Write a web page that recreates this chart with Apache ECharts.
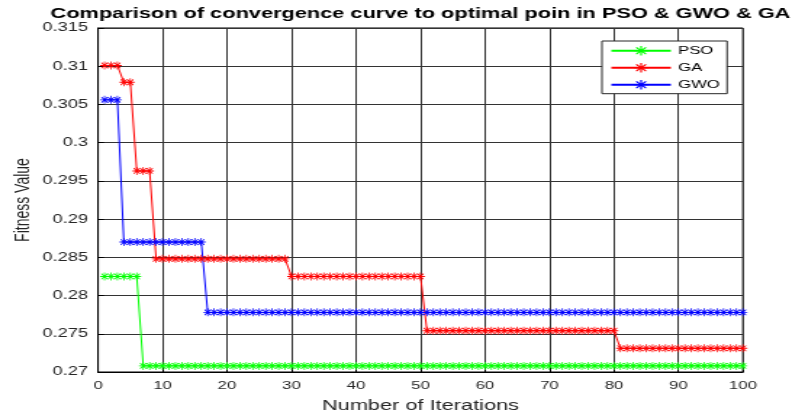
<!DOCTYPE html>
<html><head><meta charset="utf-8">
<script src="https://cdn.jsdelivr.net/npm/echarts@6/dist/echarts.min.js"></script>
<style>
html,body{margin:0;padding:0;overflow:hidden;background:#fff}
#c{width:546px;height:417px;transform:scaleX(1.4505);transform-origin:0 0}
</style>
</head><body><div id="c"></div>
<script>
const iterations = [
  1,2,3,4,5,6,7,8,9,10,
  11,12,13,14,15,16,17,18,19,20,
  21,22,23,24,25,26,27,28,29,30,
  31,32,33,34,35,36,37,38,39,40,
  41,42,43,44,45,46,47,48,49,50,
  51,52,53,54,55,56,57,58,59,60,
  61,62,63,64,65,66,67,68,69,70,
  71,72,73,74,75,76,77,78,79,80,
  81,82,83,84,85,86,87,88,89,90,
  91,92,93,94,95,96,97,98,99,100
];
const psoValues = [
  0.2825,0.2825,0.2825,0.2825,0.2825,0.2825,0.2708,0.2708,0.2708,0.2708,
  0.2708,0.2708,0.2708,0.2708,0.2708,0.2708,0.2708,0.2708,0.2708,0.2708,
  0.2708,0.2708,0.2708,0.2708,0.2708,0.2708,0.2708,0.2708,0.2708,0.2708,
  0.2708,0.2708,0.2708,0.2708,0.2708,0.2708,0.2708,0.2708,0.2708,0.2708,
  0.2708,0.2708,0.2708,0.2708,0.2708,0.2708,0.2708,0.2708,0.2708,0.2708,
  0.2708,0.2708,0.2708,0.2708,0.2708,0.2708,0.2708,0.2708,0.2708,0.2708,
  0.2708,0.2708,0.2708,0.2708,0.2708,0.2708,0.2708,0.2708,0.2708,0.2708,
  0.2708,0.2708,0.2708,0.2708,0.2708,0.2708,0.2708,0.2708,0.2708,0.2708,
  0.2708,0.2708,0.2708,0.2708,0.2708,0.2708,0.2708,0.2708,0.2708,0.2708,
  0.2708,0.2708,0.2708,0.2708,0.2708,0.2708,0.2708,0.2708,0.2708,0.2708
];
const gaValues = [
  0.3101,0.3101,0.3101,0.3079,0.3079,0.2963,0.2963,0.2963,0.2848,0.2848,
  0.2848,0.2848,0.2848,0.2848,0.2848,0.2848,0.2848,0.2848,0.2848,0.2848,
  0.2848,0.2848,0.2848,0.2848,0.2848,0.2848,0.2848,0.2848,0.2848,0.2825,
  0.2825,0.2825,0.2825,0.2825,0.2825,0.2825,0.2825,0.2825,0.2825,0.2825,
  0.2825,0.2825,0.2825,0.2825,0.2825,0.2825,0.2825,0.2825,0.2825,0.2825,
  0.2754,0.2754,0.2754,0.2754,0.2754,0.2754,0.2754,0.2754,0.2754,0.2754,
  0.2754,0.2754,0.2754,0.2754,0.2754,0.2754,0.2754,0.2754,0.2754,0.2754,
  0.2754,0.2754,0.2754,0.2754,0.2754,0.2754,0.2754,0.2754,0.2754,0.2754,
  0.2731,0.2731,0.2731,0.2731,0.2731,0.2731,0.2731,0.2731,0.2731,0.2731,
  0.2731,0.2731,0.2731,0.2731,0.2731,0.2731,0.2731,0.2731,0.2731,0.2731
];
const gwoValues = [
  0.3056,0.3056,0.3056,0.2870,0.2870,0.2870,0.2870,0.2870,0.2870,0.2870,
  0.2870,0.2870,0.2870,0.2870,0.2870,0.2870,0.2778,0.2778,0.2778,0.2778,
  0.2778,0.2778,0.2778,0.2778,0.2778,0.2778,0.2778,0.2778,0.2778,0.2778,
  0.2778,0.2778,0.2778,0.2778,0.2778,0.2778,0.2778,0.2778,0.2778,0.2778,
  0.2778,0.2778,0.2778,0.2778,0.2778,0.2778,0.2778,0.2778,0.2778,0.2778,
  0.2778,0.2778,0.2778,0.2778,0.2778,0.2778,0.2778,0.2778,0.2778,0.2778,
  0.2778,0.2778,0.2778,0.2778,0.2778,0.2778,0.2778,0.2778,0.2778,0.2778,
  0.2778,0.2778,0.2778,0.2778,0.2778,0.2778,0.2778,0.2778,0.2778,0.2778,
  0.2778,0.2778,0.2778,0.2778,0.2778,0.2778,0.2778,0.2778,0.2778,0.2778,
  0.2778,0.2778,0.2778,0.2778,0.2778,0.2778,0.2778,0.2778,0.2778,0.2778
];
const seriesNames = ['PSO', 'GA', 'GWO'];
const seriesColors = ['#00ff00', '#ff0000', '#0000ff'];
const yTickValues = [0.27,0.275,0.28,0.285,0.29,0.295,0.3,0.305,0.31,0.315];
const yTickLabels = ['0.27','0.275','0.28','0.285','0.29','0.295','0.3','0.305','0.31','0.315'];
const xTickLabels = ['0','10','20','30','40','50','60','70','80','90','100'];
const titleText = 'Comparison of convergence curve to optimal poin in PSO & GWO & GA';

const asterisk = 'path://M0,8.8H20V11.2H0Z M8.8,0H11.2V20H8.8Z M3.8,2.1L17.9,16.2L16.2,17.9L2.1,3.8Z M16.2,2.1L17.9,3.8L3.8,17.9L2.1,16.2Z';

function pairs(vals) { return iterations.map((x, i) => [x, vals[i]]); }
const allValues = [psoValues, gaValues, gwoValues];
const FONT = 'Liberation Sans, Arial, sans-serif';

const chart = echarts.init(document.getElementById('c'), null, {renderer: 'canvas'});
chart.setOption({
  animation: false,
  backgroundColor: '#fff',
  title: {
    text: titleText,
    left: 289.9, textAlign: 'center', top: 6, padding: 0,
    textStyle: {fontFamily: FONT, fontWeight: 'bold', fontSize: 15, color: '#000'}
  },
  legend: {
    orient: 'vertical', left: 415, top: 41,
    itemWidth: 41, itemHeight: 12, itemGap: 5,
    padding: [3.7, 5, 3, 5.5],
    borderColor: '#262626', borderWidth: 1, backgroundColor: '#fff',
    textStyle: {fontFamily: FONT, fontSize: 11.5, color: '#000'},
    data: seriesNames
  },
  grid: {left: 67.6, right: 33.8, top: 28, bottom: 45, show: true, borderColor: '#000', borderWidth: 1,
    backgroundColor: 'transparent', outerBoundsMode: 'none', containLabel: false},
  xAxis: {
    type: 'value', min: 0, max: 100, interval: 10,
    name: 'Number of Iterations', nameLocation: 'middle', nameGap: 26, nameMoveOverlap: false,
    nameTextStyle: {fontFamily: FONT, fontSize: 15, color: '#262626'},
    axisLine: {show: true, lineStyle: {color: '#000', width: 1}},
    axisTick: {show: true, inside: true, length: 4, lineStyle: {color: '#000'}},
    axisLabel: {margin: 8, fontFamily: FONT, fontSize: 11.5, color: '#262626',
      formatter: (v) => xTickLabels[Math.round(v / 10)]},
    splitLine: {show: true, lineStyle: {color: '#333', width: 1}}
  },
  yAxis: {
    type: 'value', min: 0.27, max: 0.315, interval: 0.005,
    name: 'Fitness Value', nameLocation: 'middle', nameGap: 44, nameMoveOverlap: false,
    nameTextStyle: {fontFamily: FONT, fontSize: 14, color: '#262626'},
    axisLine: {show: true, lineStyle: {color: '#000', width: 1}},
    axisTick: {show: true, inside: true, length: 4, lineStyle: {color: '#000'}},
    axisLabel: {margin: 7, fontFamily: FONT, fontSize: 12.5, color: '#262626',
      formatter: (v) => { const i = yTickValues.findIndex(t => Math.abs(t - v) < 1e-6); return i >= 0 ? yTickLabels[i] : ''; }},
    splitLine: {show: true, lineStyle: {color: '#333', width: 1}}
  },
  series: seriesNames.map((name, k) => ({
    name: name, type: 'line',
    data: pairs(allValues[k]),
    symbol: asterisk, symbolSize: [6, 8], showAllSymbol: true,
    itemStyle: {color: seriesColors[k]},
    lineStyle: {color: seriesColors[k], width: 1},
    emphasis: {disabled: true}
  }))
});
</script></body></html>
